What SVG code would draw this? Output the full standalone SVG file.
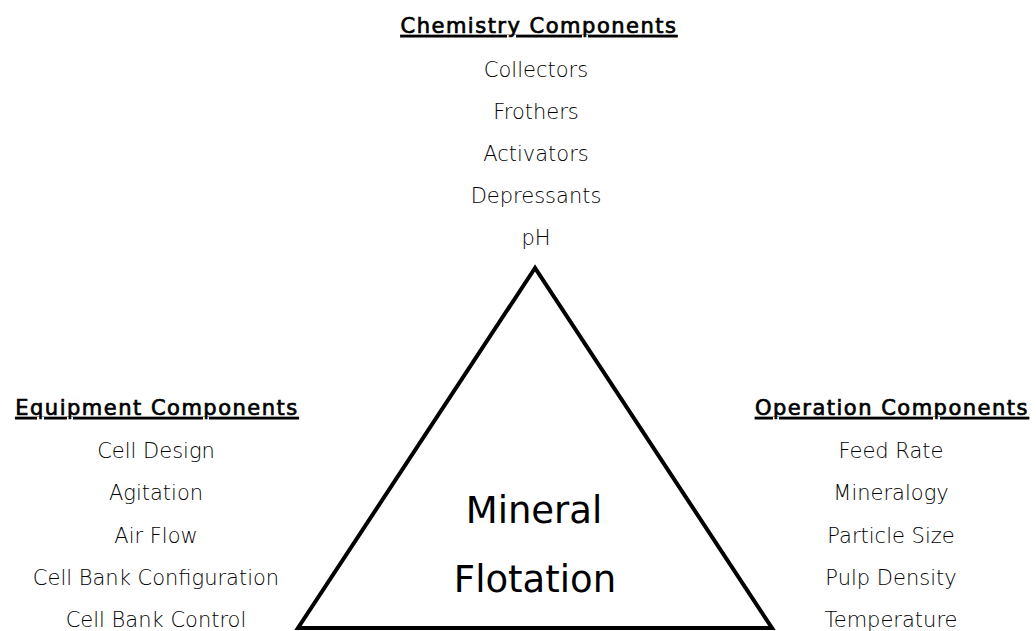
<svg xmlns="http://www.w3.org/2000/svg" width="1036" height="631" viewBox="0 0 1036 631">
<style>
.h{font-family:"DejaVu Sans",sans-serif;font-size:21px;fill:#000;stroke:#000;stroke-width:0.7;letter-spacing:1.5px;text-anchor:middle;text-decoration:underline}
.t{font-family:"DejaVu Sans",sans-serif;font-size:21px;font-weight:300;fill:#000;text-anchor:middle}
.c{font-family:"DejaVu Sans",sans-serif;font-size:37px;fill:#000;text-anchor:middle}
</style>
<rect width="1036" height="631" fill="#fff"/>
<g id="chemistry">
<text class="h" x="539" y="33">Chemistry Components</text>
<text class="t" x="536" y="77">Collectors</text>
<text class="t" x="536" y="119">Frothers</text>
<text class="t" x="536" y="161">Activators</text>
<text class="t" x="536" y="203">Depressants</text>
<text class="t" x="536" y="245">pH</text>
</g>
<g id="equipment">
<text class="h" x="157" y="415">Equipment Components</text>
<text class="t" x="156" y="458">Cell Design</text>
<text class="t" x="156" y="500">Agitation</text>
<text class="t" x="156" y="543">Air Flow</text>
<text class="t" x="156" y="585">Cell Bank Configuration</text>
<text class="t" x="156" y="627">Cell Bank Control</text>
</g>
<g id="operation">
<text class="h" x="892" y="415">Operation Components</text>
<text class="t" x="891" y="458">Feed Rate</text>
<text class="t" x="891" y="500">Mineralogy</text>
<text class="t" x="891" y="543">Particle Size</text>
<text class="t" x="891" y="585">Pulp Density</text>
<text class="t" x="891" y="627">Temperature</text>
</g>
<g id="triangle">
<polygon points="535,268 298,628 772,628" fill="none" stroke="#000" stroke-width="4" stroke-linejoin="miter"/>
<text class="c" x="534" y="523">Mineral</text>
<text class="c" x="535" y="592">Flotation</text>
</g>
<g id="connectors"></g>
</svg>
